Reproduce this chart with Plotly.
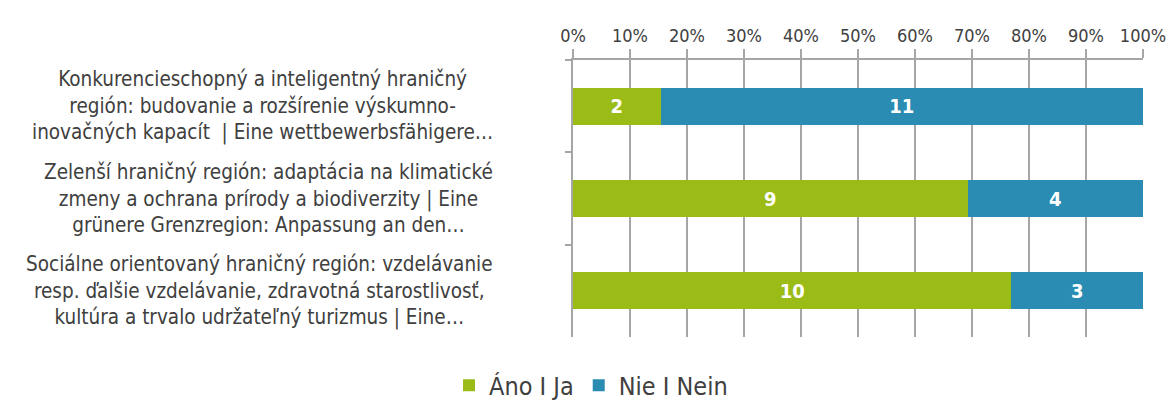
import plotly.graph_objs as go

# Survey answers per priority axis (counts)
categories = [
    "Konkurencieschopný a inteligentný hraničný<br>región: budovanie a rozšírenie výskumno-<br>inovačných kapacít  | Eine wettbewerbsfähigere…",
    "Zelenší hraničný región: adaptácia na klimatické<br>zmeny a ochrana prírody a biodiverzity | Eine<br>grünere Grenzregion: Anpassung an den…",
    "Sociálne orientovaný hraničný región: vzdelávanie<br>resp. ďalšie vzdelávanie, zdravotná starostlivosť,<br>kultúra a trvalo udržateľný turizmus | Eine…",
]
ano_ja = [2, 9, 10]
nie_nein = [11, 4, 3]
tick_vals = [0, 10, 20, 30, 40, 50, 60, 70, 80, 90, 100]
tick_text = ["0%", "10%", "20%", "30%", "40%", "50%", "60%", "70%", "80%", "90%", "100%"]

FONT = "DejaVu Sans Condensed"
GREEN = "#9BBB17"
BLUE = "#2A8CB2"
GRID = "#A6A6A6"

# the page body has an 8px margin, so the figure is a bit smaller than the window
fig = go.Figure(
    data=[
        go.Bar(
            y=categories, x=ano_ja, name="Áno I Ja", orientation="h",
            marker=dict(color=GREEN, line=dict(width=0)),
            text=ano_ja, textposition="inside", insidetextanchor="middle",
            textfont=dict(color="white", size=20, family=FONT, weight="bold"),
        ),
        go.Bar(
            y=categories, x=nie_nein, name="Nie I Nein", orientation="h",
            marker=dict(color=BLUE, line=dict(width=0)),
            text=nie_nein, textposition="inside", insidetextanchor="middle",
            textfont=dict(color="white", size=20, family=FONT, weight="bold"),
        ),
    ],
    layout=go.Layout(
        barmode="stack",
        barnorm="percent",
        bargap=0.6,
        width=1166,
        height=393,
        margin=dict(l=565, r=31, t=52, b=64),
        paper_bgcolor="white",
        plot_bgcolor="white",
        font=dict(family=FONT, color="#404040", size=18),
        showlegend=True,
        legend=dict(
            orientation="h", x=0.5, xref="container", xanchor="center",
            y=0.098, yref="container", yanchor="top",
            font=dict(size=25, color="#404040"), traceorder="normal",
        ),
        xaxis=dict(
            side="top", range=[0, 100], tickvals=tick_vals, ticktext=tick_text,
            showgrid=True, gridcolor=GRID, gridwidth=1.5,
            showline=True, linecolor=GRID, linewidth=1.5,
            ticks="outside", ticklen=9, tickcolor=GRID, tickwidth=1.5,
            tickfont=dict(size=18, color="#404040"), zeroline=False,
            automargin=False,
        ),
        yaxis=dict(
            autorange="reversed", showticklabels=False,
            showline=True, linecolor=GRID, linewidth=1.5,
            ticks="outside", tickson="boundaries", ticklen=6,
            tickcolor=GRID, tickwidth=1.5, showgrid=False,
            automargin=False,
        ),
    ),
)

# Centered, wrapped category labels to the left of the axis
for cat in categories:
    fig.add_annotation(
        x=-0.137, xref="paper", xanchor="right",
        y=cat, yref="y", yanchor="middle",
        text=cat, align="center", showarrow=False,
        font=dict(size=20.5, color="#404040", family=FONT),
    )

fig.write_html("out.html")
